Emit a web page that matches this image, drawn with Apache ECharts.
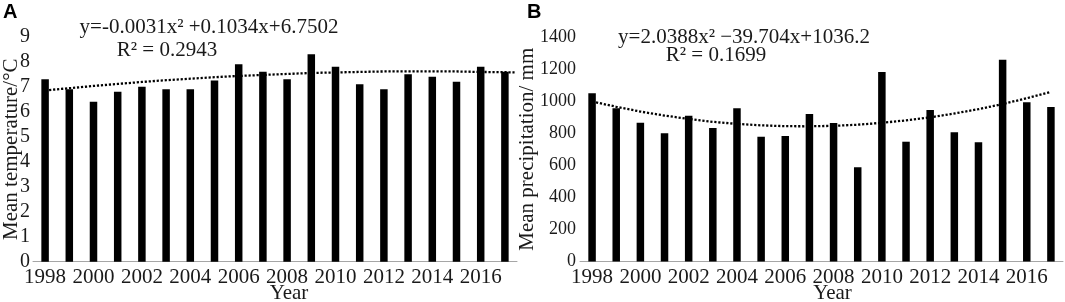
<!DOCTYPE html>
<html>
<head>
<meta charset="utf-8">
<script src="https://cdn.jsdelivr.net/npm/echarts@6/dist/echarts.min.js"></script>
<style>
html,body{margin:0;padding:0;background:#fff;}
#c{width:1065px;height:302px;}
</style>
</head>
<body>
<div id="c"></div>
<script>
// ---- data ----
const years = ['1998','1999','2000','2001','2002','2003','2004','2005','2006','2007','2008','2009','2010','2011','2012','2013','2014','2015','2016','2017'];
const tempValues = [7.3, 6.9, 6.4, 6.8, 7.0, 6.9, 6.9, 7.25, 7.9, 7.6, 7.3, 8.3, 7.8, 7.1, 6.9, 7.5, 7.4, 7.2, 7.8, 7.6];
const precipValues = [1049, 955, 866, 799, 909, 832, 955, 778, 783, 920, 864, 587, 1182, 747, 945, 806, 743, 1258, 993, 963];
// trend lines
const tempTrendX = [1998,1999,2000,2001,2002,2003,2004,2005,2006,2007,2008,2009,2010,2011,2012,2013,2014,2015,2016,2017,2017.4];
const tempTrendY = [6.85,6.94,7.03,7.11,7.19,7.26,7.32,7.38,7.43,7.47,7.51,7.55,7.57,7.59,7.61,7.61,7.61,7.61,7.59,7.58,7.57];
const precipTrendX = [1998,1999,2000,2001,2002,2003,2004,2005,2006,2007,2008,2009,2010,2011,2012,2013,2014,2015,2016,2017];
const precipTrendY = [998,965,935,910,889,871,858,849,844,843,846,853,865,880,899,923,950,982,1018,1058];
const tempTicks = {min: 0, max: 9, interval: 1};
const precipTicks = {min: 0, max: 1400, interval: 200};
const texts = {
  panelA: 'A', panelB: 'B',
  eqA: 'y=-0.0031x² +0.1034x+6.7502', r2A: 'R² = 0.2943',
  eqB: 'y=2.0388x² −39.704x+1036.2', r2B: 'R² = 0.1699',
  yNameA: 'Mean temperature/°C', yNameB: 'Mean precipitation/ mm', xName: 'Year'
};

// ---- chart ----
const SERIF = '"Liberation Serif", "Times New Roman", serif';
const TXT = '#1a1a1a';
const chart = echarts.init(document.getElementById('c'), null, {renderer: 'canvas'});

function catAxis(gridIndex, namePad) {
  return {
    type: 'category', gridIndex: gridIndex, data: years, boundaryGap: true,
    axisLine: {show: true, lineStyle: {color: '#a6a6a6', width: 1}},
    axisTick: {show: false},
    axisLabel: {interval: 1, margin: 5, fontFamily: SERIF, fontSize: 21, color: TXT},
    name: texts.xName, nameLocation: 'middle', nameGap: 21, nameMoveOverlap: false,
    nameTextStyle: {fontFamily: SERIF, fontSize: 21, color: TXT, padding: [0, 0, 0, namePad]}
  };
}
function valXAxis(gridIndex) {
  return {type: 'value', gridIndex: gridIndex, min: 1997.5, max: 2017.5, show: false, splitLine: {show: false}};
}
function yAxis(gridIndex, t, name, gap) {
  return {
    type: 'value', gridIndex: gridIndex, min: t.min, max: t.max, interval: t.interval,
    axisLine: {show: false}, axisTick: {show: false}, splitLine: {show: false},
    axisLabel: {margin: gridIndex === 0 ? 3 : 4, fontFamily: SERIF, fontSize: gridIndex === 0 ? 20 : 18, color: TXT,
                formatter: v => String(v)},
    name: name, nameLocation: 'middle', nameGap: gap, nameRotate: 90, nameMoveOverlap: false,
    nameTextStyle: {fontFamily: SERIF, fontSize: 21, color: TXT}
  };
}
const dotted = {color: '#000', width: 2.3, type: [2.2, 1.8], cap: 'butt'};

chart.setOption({
  animation: false,
  backgroundColor: '#fff',
  grid: [
    {left: 33, top: 36.7, width: 484, height: 225, outerBoundsMode: 'none', containLabel: false},
    {left: 580, top: 37, width: 483, height: 224.5, outerBoundsMode: 'none', containLabel: false}
  ],
  xAxis: [catAxis(0, 28), valXAxis(0), catAxis(1, 22), valXAxis(1)],
  yAxis: [yAxis(0, tempTicks, texts.yNameA, 11), yAxis(1, precipTicks, texts.yNameB, 42)],
  series: [
    {type: 'line', xAxisIndex: 1, yAxisIndex: 0, z: 1, symbol: 'none', lineStyle: dotted,
     data: tempTrendX.map((x, i) => [x, tempTrendY[i]])},
    {type: 'bar', xAxisIndex: 0, yAxisIndex: 0, z: 2, barWidth: 7.5, itemStyle: {color: '#000'}, data: tempValues},
    {type: 'line', xAxisIndex: 3, yAxisIndex: 1, z: 3, symbol: 'none', lineStyle: dotted,
     data: precipTrendX.map((x, i) => [x, precipTrendY[i]])},
    {type: 'bar', xAxisIndex: 2, yAxisIndex: 1, z: 2, barWidth: 7.5, itemStyle: {color: '#000'}, data: precipValues}
  ],
  graphic: [
    {type: 'text', left: 3, top: 2, style: {text: texts.panelA, font: 'bold 20px "Liberation Sans", Arial, sans-serif', fill: '#000'}},
    {type: 'text', left: 527, top: 2, style: {text: texts.panelB, font: 'bold 20px "Liberation Sans", Arial, sans-serif', fill: '#000'}},
    {type: 'text', x: 209, y: 27, style: {text: texts.eqA, font: '21px ' + SERIF, fill: TXT, align: 'center', verticalAlign: 'middle'}},
    {type: 'text', x: 167, y: 50, style: {text: texts.r2A, font: '21px ' + SERIF, fill: TXT, align: 'center', verticalAlign: 'middle'}},
    {type: 'text', x: 744, y: 37, style: {text: texts.eqB, font: '21px ' + SERIF, fill: TXT, align: 'center', verticalAlign: 'middle'}},
    {type: 'text', x: 716, y: 55, style: {text: texts.r2B, font: '21px ' + SERIF, fill: TXT, align: 'center', verticalAlign: 'middle'}}
  ]
});
</script>
</body>
</html>
